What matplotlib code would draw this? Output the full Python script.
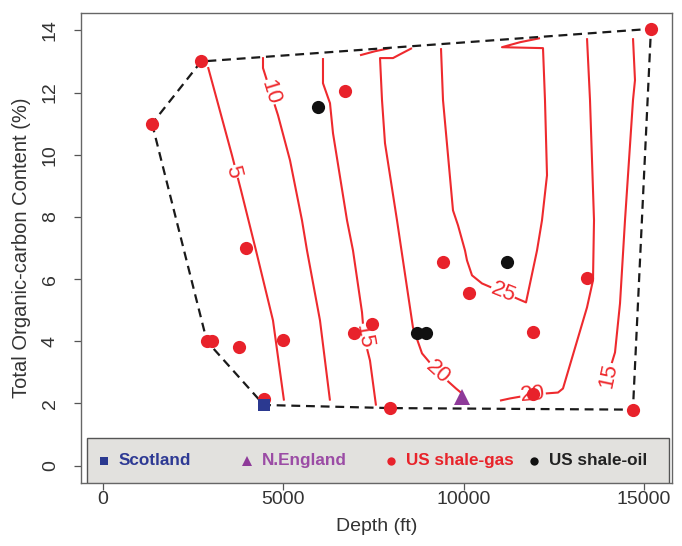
import matplotlib
matplotlib.use("Agg")
import matplotlib.pyplot as plt
from matplotlib.patches import Rectangle

plt.rcParams['font.family'] = ['Liberation Sans', 'DejaVu Sans']

# sample points (depth ft, TOC %)
gas_depth = [1360, 2720, 2880, 3020, 3770, 3960, 4460, 5000, 6710, 6960,
             7460, 7960, 9430, 10150, 11920, 11920, 13420, 14690, 15190]
gas_toc = [11.0, 13.0, 4.0, 4.0, 3.8, 7.0, 2.15, 4.05, 12.05, 4.25,
           4.55, 1.85, 6.55, 5.55, 4.3, 2.3, 6.05, 1.8, 14.05]
oil_depth = [5960, 11200, 8700, 8950]
oil_toc = [11.55, 6.55, 4.25, 4.25]
scot_depth = [4460]
scot_toc = [1.95]
neng_depth = [9950]
neng_toc = [2.2]

# contour lines (depth, TOC)
c5_d = [2911, 3160, 3576, 3825, 4241, 4712, 5017]
c5_t = [12.82, 11.76, 9.98, 8.86, 6.92, 4.67, 2.09]
c10_d = [4435, 4435, 4851, 5184, 5516, 5655, 6015, 6292]
c10_t = [13.14, 12.79, 11.27, 9.82, 7.89, 6.92, 4.67, 2.09]
c15a_d = [6098, 6098, 6292, 6376, 6764, 6930, 7180, 7235, 7401, 7568]
c15a_t = [13.11, 12.30, 11.66, 10.69, 7.89, 6.92, 4.93, 4.15, 3.38, 1.93]
c15b_d = [14692, 14747, 14692, 14470, 14332, 14193, 13999]
c15b_t = [13.75, 12.40, 11.76, 7.89, 5.22, 3.64, 2.90]
c20a_d = [7124, 7540, 7956]
c20a_t = [13.20, 13.33, 13.43]
c20b_d = [8565, 8233, 8039, 7679, 7734, 7817, 8150, 8427, 8593, 8843,
          9286, 9785, 9951]
c20b_t = [13.43, 13.23, 13.11, 13.11, 11.76, 10.37, 7.89, 5.73, 4.44, 3.61,
          3.00, 2.48, 2.32]
c20c_d = [11005, 11282, 11920, 12613, 12751, 13417, 13583, 13611, 13500, 13417]
c20c_t = [2.09, 2.16, 2.29, 2.35, 2.48, 5.09, 5.96, 7.89, 11.76, 13.75]
c25_d = [9369, 9425, 9702, 9841, 10035, 10090, 10229, 10506, 11088, 11726,
         12031, 12169, 12308, 12252, 12197, 11060, 11559, 12114]
c25_t = [13.43, 11.76, 8.21, 7.73, 6.92, 6.60, 6.12, 5.86, 5.57, 5.25,
         6.92, 7.89, 9.34, 11.76, 13.43, 13.46, 13.62, 13.75]

segments = [(c5_d, c5_t), (c10_d, c10_t), (c15a_d, c15a_t), (c15b_d, c15b_t),
            (c20a_d, c20a_t), (c20b_d, c20b_t), (c20c_d, c20c_t), (c25_d, c25_t)]

# contour labels: text, depth, toc, angle
lab_text = ['5', '10', '15', '20', '25', '20', '15']
lab_depth = [3604, 4629, 7235, 9286, 11088, 11920, 13999]
lab_toc = [9.44, 12.01, 4.15, 3.00, 5.57, 2.29, 2.90]
lab_rot = [-76, -73, -80, -42, -22, 5, 78]

names = ['Scotland', 'N.England', 'US shale-gas', 'US shale-oil']
mcolors = ['#2b3990', '#8e3a99', '#e8222b', '#111111']
tcolors = ['#2e3a94', '#9b4ca5', '#e8232a', '#222222']
markers = ['s', '^', 'o', 'o']

RED = '#ee2a2e'


def convex_hull(pts):
    pts = sorted(set(pts))

    def cross(o, a, b):
        return (a[0] - o[0]) * (b[1] - o[1]) - (a[1] - o[1]) * (b[0] - o[0])

    lower, upper = [], []
    for p in pts:
        while len(lower) >= 2 and cross(lower[-2], lower[-1], p) <= 0:
            lower.pop()
        lower.append(p)
    for p in reversed(pts):
        while len(upper) >= 2 and cross(upper[-2], upper[-1], p) <= 0:
            upper.pop()
        upper.append(p)
    return lower[:-1] + upper[:-1]


fig = plt.figure(figsize=(6.82, 5.46), dpi=100)
ax = fig.add_axes([81 / 682, 63 / 546, 591 / 682, 470 / 546])
ax.set_xlim(-610, 15773)
ax.set_ylim(-0.56, 14.56)

for d, t in segments:
    ax.plot(d, t, color=RED, lw=1.5, zorder=2, solid_capstyle='butt')

for s, d, t, r in zip(lab_text, lab_depth, lab_toc, lab_rot):
    ax.text(d, t, s, color=RED, fontsize=16, rotation=r, ha='center',
            va='center', rotation_mode='anchor', zorder=3,
            bbox=dict(facecolor='white', edgecolor='none', pad=0.3))

all_pts = list(zip(gas_depth + oil_depth + scot_depth + neng_depth,
                   gas_toc + oil_toc + scot_toc + neng_toc))
hull = convex_hull(all_pts)
hx = [p[0] for p in hull] + [hull[0][0]]
hy = [p[1] for p in hull] + [hull[0][1]]
ax.plot(hx, hy, color='#1a1a1a', lw=1.6, dashes=(4, 2.6), zorder=4)

ax.plot(gas_depth, gas_toc, 'o', color=mcolors[2], ms=9.5, mew=0, zorder=5)
ax.plot(oil_depth, oil_toc, 'o', color=mcolors[3], ms=9.5, mew=0, zorder=5)
ax.plot(scot_depth, scot_toc, 's', color=mcolors[0], ms=8.8, mew=0, zorder=6)
ax.plot(neng_depth, neng_toc, '^', color=mcolors[1], ms=12, mew=0, zorder=6)

# legend box along the bottom
ax.add_patch(Rectangle((0.0102, 0.0), 0.9848, 0.0957, transform=ax.transAxes,
                       facecolor='#e2e1de', edgecolor='#555555', lw=1.0,
                       zorder=7))
for i, (nm, mc, tc, mk) in enumerate(zip(names, mcolors, tcolors, markers)):
    x0 = 0.0389 + i * 0.2425
    ax.plot([x0], [0.047], mk, color=mc, ms=6 if mk != '^' else 7.5, mew=0,
            transform=ax.transAxes, zorder=8, clip_on=False)
    ax.text(x0 + 0.0254, 0.047, nm, color=tc, fontsize=12.3,
            fontweight='bold', ha='left', va='center',
            transform=ax.transAxes, zorder=8)

ax.set_xticks([0, 5000, 10000, 15000])
ax.set_yticks(range(0, 15, 2))
ax.tick_params(direction='out', length=5, width=0.9, color='#555555',
               labelsize=14, labelcolor='#333333')
ax.tick_params(axis='x', pad=1)
ax.tick_params(axis='y', pad=11)
plt.setp(ax.get_yticklabels(), rotation=90, va='center')
for sp in ax.spines.values():
    sp.set_color('#666666')
    sp.set_linewidth(1.0)

ax.set_xlabel('Depth (ft)', fontsize=14, color='#333333', labelpad=7)
ax.set_ylabel('Total Organic-carbon Content (%)', fontsize=14.5,
              color='#333333', labelpad=8)

fig.savefig('out.png', dpi=100)
